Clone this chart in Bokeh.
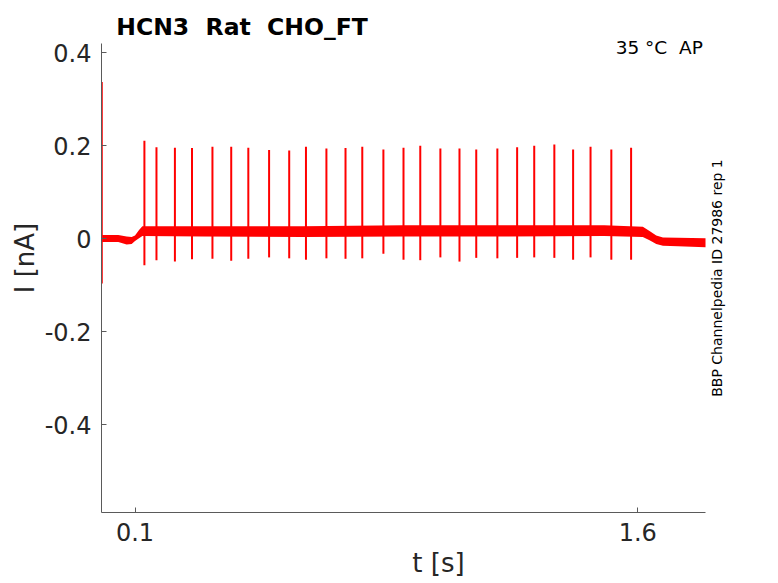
import math
from bokeh.plotting import figure
from bokeh.models import Range1d, FixedTicker, Label
from bokeh.embed import file_html
from bokeh.resources import INLINE

# ---- data ----
spike_t = [0.128, 0.164, 0.219, 0.270, 0.331, 0.387, 0.438, 0.500, 0.560, 0.610,
           0.671, 0.728, 0.778, 0.841, 0.901, 0.951, 1.011, 1.068, 1.118, 1.181,
           1.240, 1.291, 1.351, 1.407, 1.459, 1.521, 1.580]
spike_peak = [0.211, 0.197, 0.196, 0.195, 0.198, 0.198, 0.196, 0.191, 0.190, 0.198,
              0.194, 0.195, 0.198, 0.192, 0.196, 0.200, 0.194, 0.194, 0.192, 0.194,
              0.197, 0.200, 0.203, 0.192, 0.198, 0.192, 0.196]
spike_trough = [-0.057, -0.046, -0.049, -0.044, -0.043, -0.047, -0.043, -0.040, -0.042, -0.045,
                -0.042, -0.043, -0.042, -0.032, -0.045, -0.046, -0.040, -0.049, -0.041, -0.042,
                -0.041, -0.040, -0.041, -0.045, -0.040, -0.045, -0.045]

base_t = [0.002, 0.05, 0.075, 0.09, 0.100, 0.112, 0.122, 0.3, 0.6, 0.9, 1.2, 1.5,
          1.615, 1.635, 1.655, 1.675, 1.72, 1.802]
base_lo = [-0.007, -0.007, -0.012, -0.011, -0.005, 0.001, 0.006, 0.005, 0.004, 0.005, 0.005, 0.006,
           0.004, -0.003, -0.011, -0.015, -0.016, -0.018]
base_hi = [0.008, 0.008, 0.005, 0.004, 0.007, 0.019, 0.027, 0.027, 0.027, 0.029, 0.029, 0.029,
           0.026, 0.017, 0.007, 0.003, 0.002, 0.001]

trans_t = [0.0008]
trans_lo = [-0.096]
trans_hi = [0.337]

x_ticks = [0.1, 1.6]
x_tick_labels = ["0.1", "1.6"]
y_ticks = [-0.4, -0.2, 0.0, 0.2, 0.4]
y_tick_labels = ["-0.4", "-0.2", "0", "0.2", "0.4"]
x_axis_span = (0.0, 1.802)
y_axis_span = (-0.5886, 0.419)

NB = "\u00a0"
title_text = "HCN3 " + NB + "Rat " + NB + "CHO_FT"
temp_text = "35 °C " + NB + "AP"
side_text = "BBP Channelpedia ID 27986 rep 1"
x_label = "t [s]"
y_label = "I [nA]"

FONT = "DejaVu Sans"
AX = "#5a5a5a"
TXT = "#262626"
RED = "#ff0000"

p = figure(width=778, height=583, output_backend="svg", toolbar_location=None,
           x_range=Range1d(0.0, 2.0108), y_range=Range1d(-0.5886, 0.506),
           min_border_left=101, min_border_right=3, min_border_top=3, min_border_bottom=71)
p.outline_line_color = None
p.xgrid.visible = False
p.ygrid.visible = False
p.background_fill_color = "white"
p.border_fill_color = "white"

# trace
p.varea(x=base_t, y1=base_lo, y2=base_hi, fill_color=RED, fill_alpha=1.0)
p.segment(x0=spike_t, y0=spike_trough, x1=spike_t, y1=spike_peak,
          line_color=RED, line_width=2)
p.segment(x0=trans_t, y0=trans_lo, x1=trans_t, y1=trans_hi,
          line_color=RED, line_width=2)

for ax, ticks, labels, span in ((p.xaxis[0], x_ticks, x_tick_labels, x_axis_span),
                                (p.yaxis[0], y_ticks, y_tick_labels, y_axis_span)):
    ax.ticker = FixedTicker(ticks=ticks)
    ax.major_label_overrides = {t: l for t, l in zip(ticks, labels)}
    ax.bounds = span
    ax.axis_line_color = AX
    ax.axis_line_width = 1
    ax.major_tick_line_color = AX
    ax.major_tick_in = 5
    ax.major_tick_out = 0
    ax.minor_tick_line_color = None
    ax.major_label_text_font = FONT
    ax.major_label_text_font_size = "24px"
    ax.major_label_text_color = TXT
    ax.axis_label_text_font = FONT
    ax.axis_label_text_font_size = "26px"
    ax.axis_label_text_font_style = "normal"
    ax.axis_label_text_color = TXT
p.xaxis.major_label_standoff = 10
p.yaxis.major_label_standoff = 10
p.xaxis.axis_label = x_label
p.yaxis.axis_label = y_label
p.xaxis.axis_label_standoff = 4
p.yaxis.axis_label_standoff = 2

# texts inside the (extended) frame
p.add_layout(Label(x=0.044, y=0.4544, text=title_text, text_font=FONT, text_font_size="23.5px",
                   text_font_style="bold", text_color="black", text_align="left",
                   text_baseline="alphabetic"))
p.add_layout(Label(x=1.794, y=0.411, text=temp_text, text_font=FONT, text_font_size="18.5px",
                   text_color="black", text_align="right", text_baseline="alphabetic"))
p.add_layout(Label(x=1.837, y=-0.0843, text=side_text, text_font=FONT, text_font_size="14px",
                   text_color="black", text_align="center", text_baseline="middle",
                   angle=math.pi / 2))

open("out.html", "w").write(file_html(p, INLINE))
